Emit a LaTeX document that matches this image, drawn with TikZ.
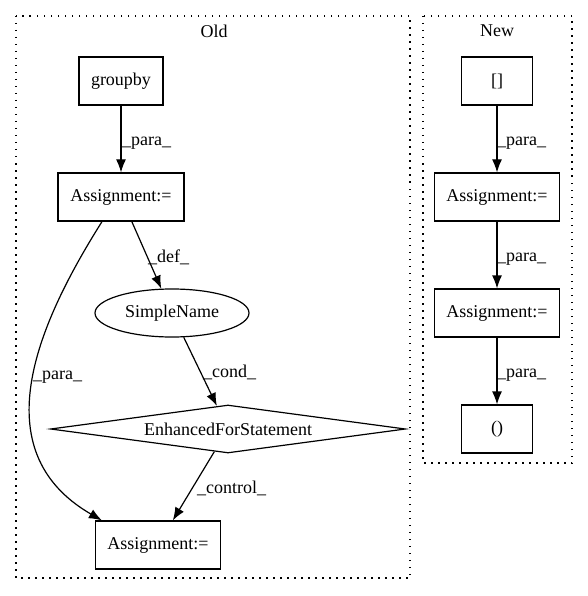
\documentclass[tikz,border=0pt]{standalone}
\usepackage{fontspec}
\setmainfont{Liberation Serif}
\usetikzlibrary{calc,shapes.geometric,arrows.meta}
\tikzset{
	box/.style={draw,line width=1.2pt,minimum width=#1,minimum height=48pt,inner sep=0pt},
	box/.default=84pt,
	cluster/.style={line width=1.2pt,dash pattern=on 1.5pt off 5.5pt},
	edge/.style={-{Latex[length=13pt,width=10pt]},line width=1.2pt},
	lab/.style={anchor=west,inner sep=0pt}
}
\newcommand{\elab}[3]{
	\node (#1) at (#2) [lab] {\_#3\_};
}

\begin{document}
\begin{tikzpicture}[x=1pt,y=-1pt,font=\fontsize{18}{21}\selectfont]
	\useasboundingbox (0,0) rectangle (587,596);
	% clusters
	\draw[cluster] (16,16) rectangle (410,578);
	\node (Lold) at (214,31) {Old};
	\draw[cluster] (423,16) rectangle (572,463);
	\node (Lnew) at (497,31) {New};
	% old
	\node (groupby) at (121,81) [box=84pt] {groupby};
	\node (asgA) at (121,197) [box=126pt] {Assignment:=};
	\node (sname) at (172,313) [ellipse,draw,line width=1.2pt,minimum width=154pt,minimum height=48pt,inner sep=0pt] {SimpleName};
	\node (efor) at (228,429) [diamond,draw,line width=1.2pt,aspect=7.4,minimum width=355pt,minimum height=48pt,inner sep=0pt] {EnhancedForStatement};
	\node (asgB) at (158,545) [box=125pt] {Assignment:=};
	\draw[edge] (groupby) -- (asgA);
	\draw[edge] (asgA) -- (sname);
	\draw[edge] (sname) -- (efor);
	\draw[edge] (efor) -- (asgB);
	\draw[edge] ($(asgA.south)+(-19,0)$) .. controls (40,320) and (-20,450) .. ($(asgB.north west)+(7,0)$);
	\elab{pA}{122,143}{para}
	\elab{dA}{148,257}{def}
	\elab{cA}{203,372}{cond}
	\elab{ctA}{197,488}{control}
	\elab{pB}{33,377}{para}
	% new
	\node (idx) at (497,81) [box=71pt] {[]};
	\node (asgC) at (497,197) [box=125pt] {Assignment:=};
	\node (asgD) at (497,313) [box=125pt] {Assignment:=};
	\node (call) at (497,429) [box=71pt] {()};
	\draw[edge] (idx) -- (asgC);
	\draw[edge] (asgC) -- (asgD);
	\draw[edge] (asgD) -- (call);
	\elab{pC}{497,143}{para}
	\elab{pD}{497,259}{para}
	\elab{pE}{497,375}{para}
\end{tikzpicture}
\end{document}
